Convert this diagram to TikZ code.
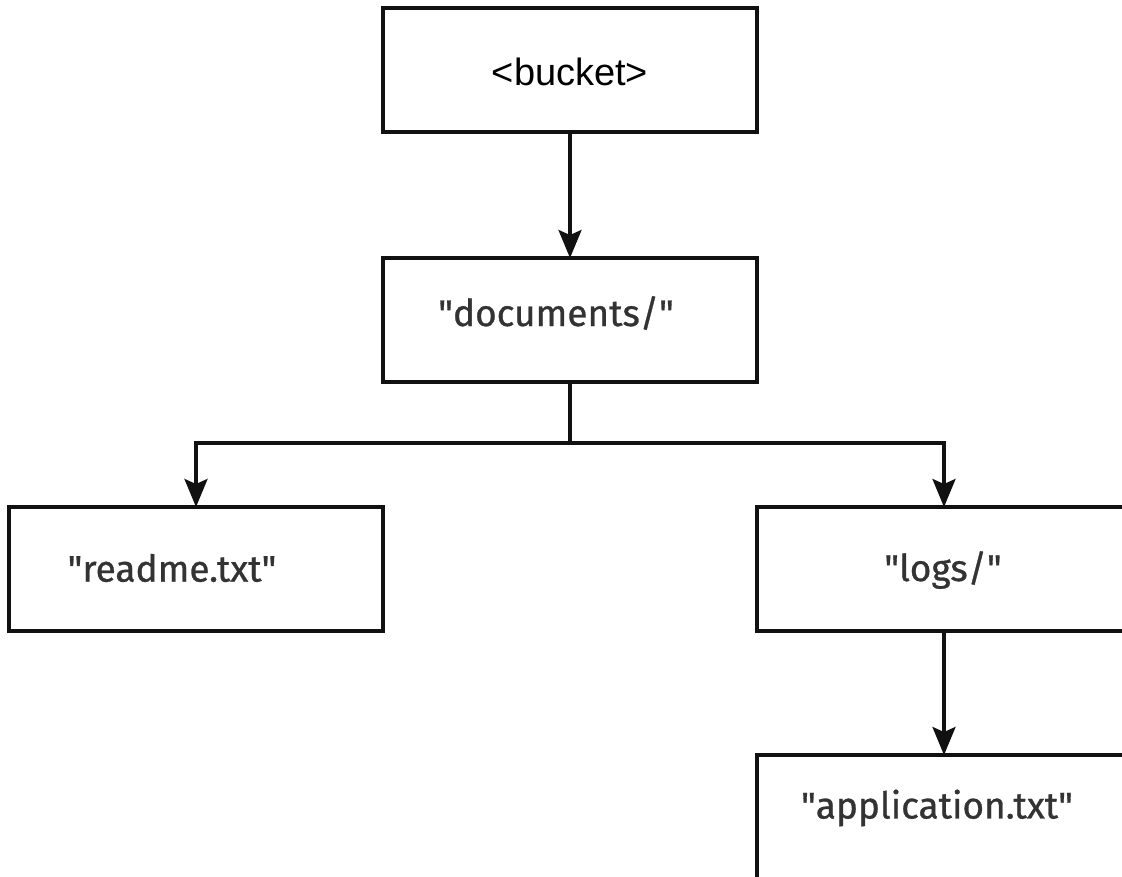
\documentclass[tikz,border=0pt]{standalone}
\usepackage{fontspec}
\setmainfont{Fira Sans}
\newfontfamily\lblfont{Fira Sans}[FakeBold=0.8]
\newfontfamily\arialfont{Liberation Sans}
\usetikzlibrary{arrows.meta}
\definecolor{txt}{HTML}{333333}
\definecolor{ln}{HTML}{111111}
\newcommand\sq{\XeTeXglyph\XeTeXcharglyph"22\relax}
\begin{document}
\begin{tikzpicture}[x=1pt,y=-1pt,
  box/.style={draw=ln,line width=3.2pt,minimum width=374pt,minimum height=124pt,inner sep=0pt,outer sep=0pt,fill=white},
  lbl/.style={text=txt,inner sep=0pt,font=\lblfont\fontsize{37}{42}\selectfont},
  conn/.style={draw=ln,line width=3.2pt,-{Stealth[length=28pt,width=23pt,inset=5pt]}},
  wire/.style={draw=ln,line width=3.2pt}]
\useasboundingbox[fill=white] (0,0) rectangle (1122,877);
\clip (0,0) rectangle (1122,877);
\node[box] (bucket) at (570,70) {};
\node[lbl,font=\arialfont\fontsize{38}{42}\selectfont,text=black] (tbucket) at (570,72) {<bucket>};
\node[box] (docs) at (570,320) {};
\node[lbl] (tdocs) at (556,313) {\sq documents/\sq};
\node[box] (readme) at (196,569) {};
\node[lbl] (treadme) at (172,568) {\sq readme.txt\sq};
\node[box] (logs) at (944,569) {};
\node[lbl] (tlogs) at (943,570) {\sq logs/\sq};
\node[box] (app) at (944,817) {};
\node[lbl] (tapp) at (937,808) {\sq application.txt\sq};
\coordinate (split) at (570,443);
\draw[conn] (bucket.south) -- (docs.north);
\draw[wire] (docs.south) -- (split);
\draw[conn] (split) -| (readme.north);
\draw[conn] (split) -| (logs.north);
\draw[conn] (logs.south) -- (app.north);
\end{tikzpicture}
\end{document}
